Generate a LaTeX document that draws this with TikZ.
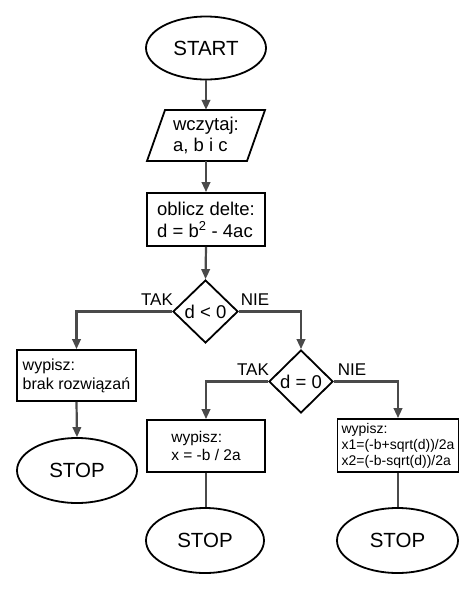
\documentclass[tikz,border=0pt]{standalone}
\usepackage{fontspec}
\setmainfont{Liberation Sans}
\usetikzlibrary{shapes.geometric,arrows.meta}
\definecolor{conn}{HTML}{4a4a4a}
\tikzset{
  base/.style={draw=black,line width=1.8pt,inner sep=0pt,align=left},
  term/.style={base,ellipse,font=\fontsize{20.5}{22}\selectfont},
  procbox/.style={base,rectangle,font=\fontsize{18.5}{22}\selectfont},
  decision/.style={base,diamond,font=\fontsize{18.5}{22}\selectfont},
  lbl/.style={inner sep=0pt,font=\fontsize{17}{20}\selectfont},
  link/.style={draw=conn,line width=2.2pt},
  arrowlink/.style={link,-{Triangle[length=10pt,width=8.5pt]}},
}
\begin{document}
\begin{tikzpicture}[x=1pt,y=-1pt]
\useasboundingbox[fill=white] (0,0) rectangle (474,590);
\node[term,minimum width=120,minimum height=63] (start) at (206,48) {START};
% input parallelogram
\node[inner sep=0pt,minimum width=100,minimum height=51,align=left,font=\fontsize{18.5}{21}\selectfont] (in) at (206,135.5) {wczytaj:\\a, b i c};
\draw[line width=1.8pt] (165,110) -- (265,110) -- (247,161) -- (147,161) -- cycle;
\node[procbox,minimum width=118,minimum height=53] (calc) at (206,219.5) {oblicz delte:\\d = b\textsuperscript{2} - 4ac};
\node[decision,minimum width=65,minimum height=63] (d1) at (205.5,311.5) {d < 0};
\node[procbox,minimum width=119,minimum height=51,font=\fontsize{16}{19}\selectfont] (b1) at (76.5,375.5) {wypisz:\\brak rozwiązań};
\node[term,minimum width=120,minimum height=65] (s1) at (77,470.5) {STOP};
\node[decision,minimum width=64,minimum height=63] (d2) at (301,381.5) {d = 0};
\node[procbox,minimum width=118,minimum height=52,font=\fontsize{15.5}{18.5}\selectfont] (b2) at (206,446) {wypisz:\\x = -b / 2a};
\node[term,minimum width=118,minimum height=65] (s2) at (205,540.5) {STOP};
\node[procbox,minimum width=121,minimum height=53,font=\fontsize{14}{16}\selectfont] (b3) at (398,445.5) {wypisz:\\x1=(-b+sqrt(d))/2a\\x2=(-b-sqrt(d))/2a};
\node[term,minimum width=121,minimum height=65] (s3) at (397.5,540.5) {STOP};
\node[lbl] (tak1) at (157,300) {TAK};
\node[lbl] (nie1) at (255,300) {NIE};
\node[lbl] (tak2) at (253,370) {TAK};
\node[lbl] (nie2) at (352,370) {NIE};
\draw[arrowlink] (start.south) -- (in.north);
\draw[arrowlink] (in.south) -- (calc.north);
\draw[arrowlink] (calc.south) -- (d1.north);
\draw[arrowlink] (d1.west) -| (b1.north);
\draw[arrowlink] (d1.east) -| (d2.north);
\draw[arrowlink] (b1.south) -- (s1.north);
\draw[arrowlink] (d2.west) -| (b2.north);
\draw[arrowlink] (d2.east) -| (b3.north);
\draw[link] (b2.south) -- (b2.south |- s2.north);
\draw[link] (b3.south) -- (b3.south |- s3.north);
\end{tikzpicture}
\end{document}
